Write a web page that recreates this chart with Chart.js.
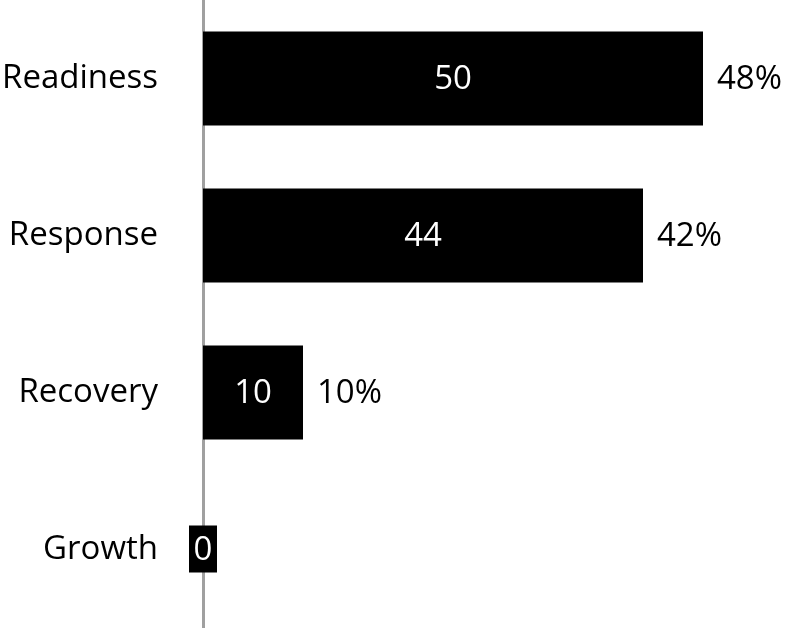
<!DOCTYPE html>
<html>
<head>
<meta charset="utf-8">
<script src="https://cdn.jsdelivr.net/npm/chart.js@4"></script>
<style>
  html, body { margin: 0; padding: 0; background: #fff; }
  #wrap { width: 787px; height: 628px; }
</style>
</head>
<body>
<div id="wrap"><canvas id="barChart" width="787" height="628"></canvas></div>
<script>
const categories = ['Readiness', 'Response', 'Recovery', 'Growth'];
const counts = [50, 44, 10, 0];
const percentLabels = ['48%', '42%', '10%', ''];

const FONT = "'Open Sans', sans-serif";

// labels inside bars + percentages to the right
const barLabels = {
    id: 'barLabels',
    afterDatasetsDraw(chart) {
        const ctx = chart.ctx;
        const meta = chart.getDatasetMeta(0);
        ctx.save();
        ctx.font = '33px ' + FONT;
        ctx.textBaseline = 'middle';
        meta.data.forEach((bar, i) => {
            const txt = String(counts[i]);
            const mid = (bar.x + bar.base) / 2;
            const w = Math.abs(bar.x - bar.base);
            const tw = ctx.measureText(txt).width;
            if (w < tw + 8) {
                // too small: black box behind the number
                ctx.fillStyle = '#000';
                ctx.fillRect(mid - 14, bar.y - 24, 28, 47);
            }
            ctx.fillStyle = '#fff';
            ctx.textAlign = 'center';
            ctx.fillText(txt, mid, bar.y + 1);

            if (percentLabels[i]) {
                ctx.fillStyle = '#000';
                ctx.textAlign = 'left';
                ctx.fillText(percentLabels[i], bar.x + 14, bar.y + 1);
            }
        });
        ctx.restore();
    }
};

window.onload = function () {
    const ctx = document.getElementById('barChart').getContext('2d');

    new Chart(ctx, {
        type: 'bar',
        data: {
            labels: categories,
            datasets: [{
                data: counts,
                backgroundColor: '#000',
                borderWidth: 0,
                categoryPercentage: 1,
                barPercentage: 0.6
            }]
        },
        options: {
            indexAxis: 'y',
            responsive: false,
            animation: false,
            layout: { padding: { left: 0, right: 4, top: 0, bottom: 0 } },
            plugins: {
                legend: { display: false },
                tooltip: { enabled: false }
            },
            scales: {
                x: {
                    display: false,
                    min: 0,
                    max: 58
                },
                y: {
                    afterFit: function (scale) {
                        scale.width = 203;
                        // tick padding would otherwise push the plot down
                        scale.paddingTop = 0;
                        scale.paddingBottom = 0;
                    },
                    grid: { display: true, color: 'transparent', drawTicks: false },
                    border: { display: true, color: '#a0a0a0', width: 3 },
                    ticks: {
                        color: '#000',
                        padding: 45,
                        font: { family: FONT, size: 33 }
                    }
                }
            }
        },
        plugins: [barLabels]
    });
};
</script>
</body>
</html>
